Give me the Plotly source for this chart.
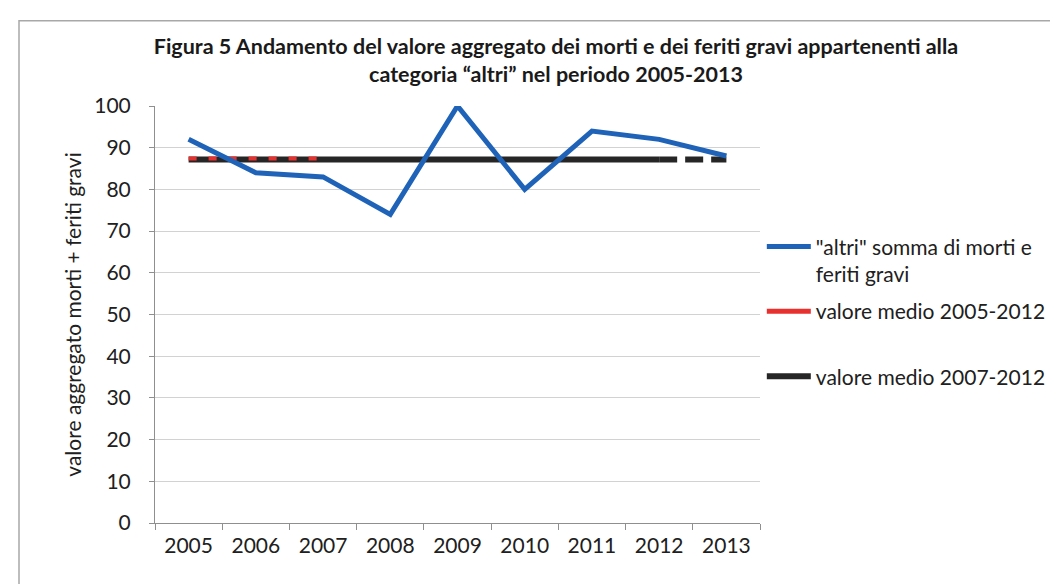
import plotly.graph_objects as go

years = ["2005", "2006", "2007", "2008", "2009", "2010", "2011", "2012", "2013"]
altri = [92, 84, 83, 74, 100, 80, 94, 92, 88]
media_2005_2012 = 87.4
media_2007_2012 = 87.2

name_blue = '"altri" somma di morti e<br>feriti gravi'
name_red = "valore medio 2005-2012"
name_black = "valore medio 2007-2012"

FONT = "Lato"
TXT = "#202020"
fig = go.Figure()

# black mean line: solid 2005-2012, dashed 2012-2013
fig.add_trace(go.Scatter(x=years[:8], y=[media_2007_2012] * 8, mode="lines",
                         line=dict(color="#262626", width=6), name=name_black,
                         legend="legend3"))
fig.add_trace(go.Scatter(x=years[7:], y=[media_2007_2012] * 2, mode="lines",
                         line=dict(color="#262626", width=6, dash="18px,8px"),
                         showlegend=False, hoverinfo="skip"))
# red mean line (dashed over black) 2005-2007
fig.add_trace(go.Scatter(x=years[:3], y=[media_2005_2012] * 3, mode="lines",
                         line=dict(color="#e8312f", width=4, dash="8px,12px"),
                         showlegend=False, hoverinfo="skip"))
fig.add_trace(go.Scatter(x=[None], y=[None], mode="lines",
                         line=dict(color="#e8312f", width=5), name=name_red,
                         legend="legend2"))
# blue series
fig.add_trace(go.Scatter(x=years, y=altri, mode="lines",
                         line=dict(color="#1f63b8", width=5), name=name_blue,
                         legend="legend"))

leg_common = dict(x=1.003, xanchor="left", yanchor="middle", itemwidth=44,
                  font=dict(family=FONT, size=21, color=TXT),
                  bgcolor="rgba(0,0,0,0)")

fig.update_layout(
    width=1058, height=584,
    margin=dict(l=147, r=306, t=98, b=69),
    paper_bgcolor="white", plot_bgcolor="white",
    font=dict(family=FONT, color=TXT, size=21),
    title=dict(
        text="<b>Figura 5 Andamento del valore aggregato dei morti e dei feriti gravi appartenenti alla<br>categoria “altri” nel periodo 2005-2013</b>",
        x=548 / 1058, xref="container", xanchor="center",
        y=1 - 46 / 584, yref="container", yanchor="top",
        font=dict(family=FONT, size=21.5, color="#1a1a1a"),
    ),
    showlegend=True,
    legend=dict(y=(515 - 253) / 416, valign="top", **leg_common),
    legend2=dict(y=(515 - 304) / 416, **leg_common),
    legend3=dict(y=(515 - 369) / 416, **leg_common),
    xaxis=dict(type="category", range=[-0.5, 8.5], showgrid=False,
               showline=True, linecolor="#8f8f8f", linewidth=1,
               ticks="outside", tickson="boundaries", ticklen=6, tickcolor="#8f8f8f",
               ticklabelstandoff=4,
               tickfont=dict(family=FONT, size=21, color=TXT)),
    yaxis=dict(range=[0, 100], dtick=10, showgrid=True, gridcolor="#d2d2d2", gridwidth=1,
               showline=True, linecolor="#8f8f8f", linewidth=1, zeroline=False,
               ticks="outside", ticklen=5, tickcolor="#8f8f8f",
               ticklabelstandoff=14,
               tickfont=dict(family=FONT, size=21, color=TXT),
               title=dict(text="valore aggregato morti + feriti gravi", standoff=6,
                          font=dict(family=FONT, size=21, color=TXT))),
    shapes=[dict(type="rect", xref="paper", yref="paper",
                 x0=(11 - 147) / 605, x1=(1070 - 147) / 605,
                 y0=(515 - 600) / 416, y1=(515 - 14) / 416,
                 line=dict(color="#a8a8a8", width=1.5), layer="below")],
)

fig.write_html("out.html")
